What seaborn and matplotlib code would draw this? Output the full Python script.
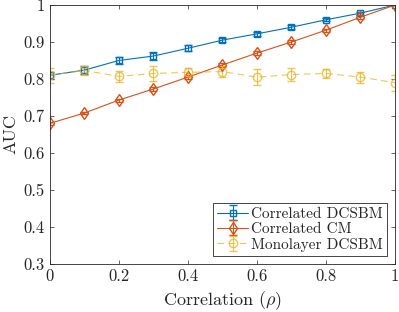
import matplotlib
matplotlib.use("Agg")
import matplotlib.pyplot as plt
import seaborn as sns
import numpy as np

rho = [0.0, 0.1, 0.2, 0.3, 0.4, 0.5, 0.6, 0.7, 0.8, 0.9, 1.0]

dcsbm = [0.810, 0.824, 0.850, 0.862, 0.883, 0.905, 0.922, 0.940, 0.960, 0.978, 1.000]
dcsbm_err = [0.010, 0.010, 0.009, 0.010, 0.008, 0.006, 0.005, 0.005, 0.004, 0.004, 0.001]

cm = [0.680, 0.708, 0.743, 0.773, 0.805, 0.838, 0.870, 0.900, 0.932, 0.967, 1.000]
cm_err = [0.004, 0.004, 0.004, 0.005, 0.005, 0.006, 0.005, 0.005, 0.004, 0.005, 0.001]

mono = [0.810, 0.823, 0.807, 0.815, 0.818, 0.820, 0.805, 0.812, 0.815, 0.805, 0.790]
mono_err = [0.020, 0.012, 0.015, 0.020, 0.012, 0.015, 0.022, 0.018, 0.012, 0.015, 0.022]

sns.set_style("ticks")
plt.rcParams["font.family"] = "serif"
plt.rcParams["font.serif"] = ["cmr10", "DejaVu Serif"]
plt.rcParams["mathtext.fontset"] = "cm"
plt.rcParams["axes.formatter.use_mathtext"] = True

blue = (0, 0.447, 0.741)
orange = (0.85, 0.325, 0.098)
yellow = (0.929, 0.694, 0.125)

fig = plt.figure(figsize=(3.99, 3.12), dpi=100)
ax = fig.add_axes([0.125, 0.154, 0.865, 0.83])

ax.errorbar(rho, dcsbm, yerr=dcsbm_err, color=blue, marker="s", ms=5, mfc="none",
            lw=0.8, capsize=3, elinewidth=0.8, label="Correlated DCSBM")
ax.errorbar(rho, cm, yerr=cm_err, color=orange, marker="d", ms=6, mfc="none",
            lw=0.8, capsize=3, elinewidth=0.8, label="Correlated CM")
ax.errorbar(rho, mono, yerr=mono_err, color=yellow, marker="o", ms=6, mfc="none",
            lw=0.8, ls="--", dashes=(6, 4), capsize=3, elinewidth=0.8, alpha=0.75,
            label="Monolayer DCSBM")

ax.set_xlim(0, 1)
ax.set_ylim(0.3, 1.0)
ax.set_xticks(np.arange(0, 1.01, 0.2))
ax.set_yticks(np.arange(0.3, 1.01, 0.1))
ax.set_xticklabels(["0", "0.2", "0.4", "0.6", "0.8", "1"])
ax.set_yticklabels(["0.3", "0.4", "0.5", "0.6", "0.7", "0.8", "0.9", "1"])
ax.tick_params(direction="in", top=True, right=True, labelsize=12, length=3,
               color="#262626", width=0.5)
for s in ax.spines.values():
    s.set_color("#262626")
    s.set_linewidth(0.6)
ax.set_xlabel(r"Correlation ($\rho$)", fontsize=13)
ax.set_ylabel("AUC", fontsize=13)

leg = ax.legend(loc="lower right", fontsize=11, fancybox=False, framealpha=1,
                edgecolor="#262626", borderpad=0.3, labelspacing=0.1,
                handlelength=2.0, handletextpad=0.2, borderaxespad=0.5)
leg.get_frame().set_linewidth(0.6)

fig.savefig("out.png", dpi=100)
